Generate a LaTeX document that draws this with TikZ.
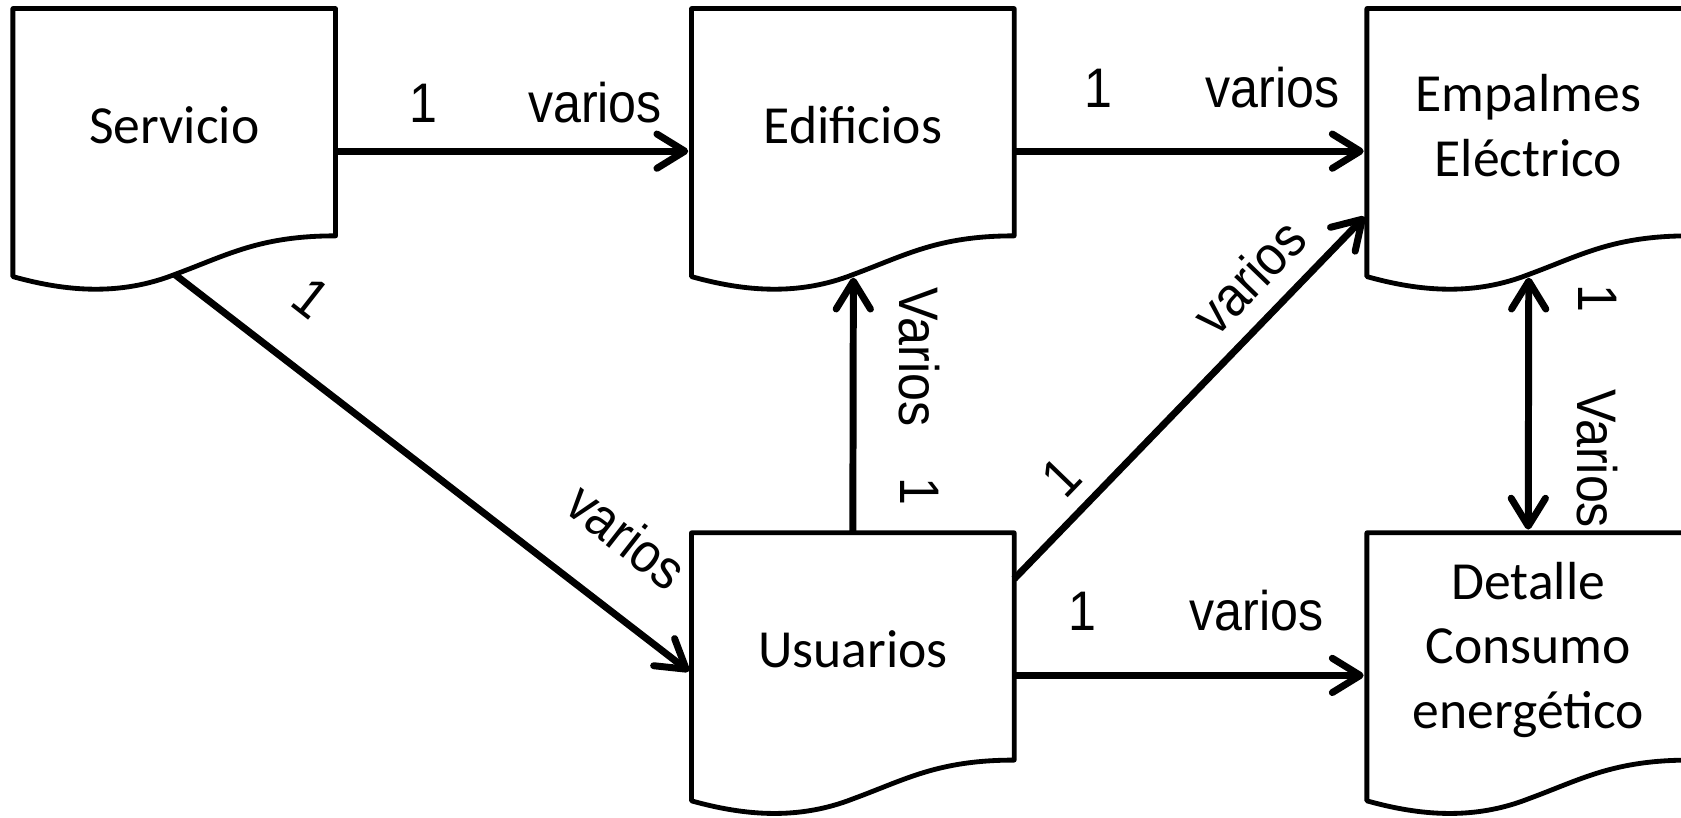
\documentclass[tikz,border=0pt]{standalone}
\usepackage{fontspec}
\setmainfont{Carlito}
\newfontfamily\lblfont[FakeStretch=0.9]{Liberation Sans}
\usetikzlibrary{arrows.meta,calc}
\newcommand\docshape[1]{%
  \draw[docline] (#1.north west) -- (#1.north east) -- ($(#1.north west)+(301,212)$)
    .. controls ($(#1.north west)+(230,212)$) and ($(#1.north west)+(200,230)$) .. ($(#1.north west)+(151,248)$)
    .. controls ($(#1.north west)+(100,268)$) and ($(#1.north west)+(50,264)$) .. ($(#1.north west)+(0,250)$) -- cycle;
  \coordinate (#1w) at ($(#1.north west)+(151,248)$);}
\begin{document}
\begin{tikzpicture}[x=1pt,y=-1pt,
  docnode/.style={minimum width=301pt,minimum height=218pt,inner sep=0pt,outer sep=0pt,align=center,font=\fontsize{50}{60}\selectfont},
  docline/.style={line width=4.5pt,line join=round},
  barb/.tip={Straight Barb[length=26pt,width=32pt,line cap=round,line join=round]},
  conn/.style={line width=6.5pt,-barb,shorten >=3pt},
  lbl/.style={font=\lblfont\fontsize{52}{60}\selectfont,inner sep=0pt}]
\useasboundingbox (0,0) rectangle (1568,763);
% boxes
\node[docnode] (serv) at (162.5,117) {Servicio};
\node[docnode] (edif) at (795.5,117) {Edificios};
\node[docnode] (emp) at (1425.5,117) {Empalmes\\Eléctrico};
\node[docnode] (usu) at (795.5,606) {Usuarios};
\node[docnode] (det) at (1425.5,606) {Detalle\\Consumo\\energético};
\docshape{serv}
\docshape{edif}
\docshape{emp}
\docshape{usu}
\docshape{det}
% connectors
\draw[conn] ([yshift=-24pt]serv.east) -- ([yshift=-24pt]edif.west);
\draw[conn] ([yshift=-24pt]edif.east) -- ([yshift=-24pt]emp.west);
\draw[conn] (servw) -- ([yshift=-22pt]usu.west);
\draw[conn] (usu.north) -- (edifw);
\draw[conn] ([yshift=-43pt]usu.north east) -- ([yshift=-192pt]emp.north west);
\draw[conn] ([yshift=-24pt]usu.east) -- ([yshift=-24pt]det.west);
\draw[conn,barb-barb,shorten <=3pt] (empw) -- (det.north);
% labels
\node[lbl,anchor=base] (a1) at (395,114) {1};
\node[lbl,anchor=base] (a2) at (555,114) {varios};
\node[lbl,anchor=base] (b1) at (1025,100) {1};
\node[lbl,anchor=base] (b2) at (1187,100) {varios};
\node[lbl,anchor=base] (c1) at (1010,588) {1};
\node[lbl,anchor=base] (c2) at (1172,588) {varios};
\node[lbl,rotate=-90] (d2) at (858,333) {Varios};
\node[lbl,rotate=-90] (d1) at (858,458) {1};
\node[lbl,rotate=-90] (e1) at (1490,278) {1};
\node[lbl,rotate=-90] (e2) at (1490,428) {Varios};
\node[lbl,rotate=-38] (f1) at (290,278) {1};
\node[lbl,rotate=-38] (f2) at (585,500) {varios};
\node[lbl,rotate=46] (g1) at (990,445) {1};
\node[lbl,rotate=46] (g2) at (1165,258) {varios};
\end{tikzpicture}
\end{document}
